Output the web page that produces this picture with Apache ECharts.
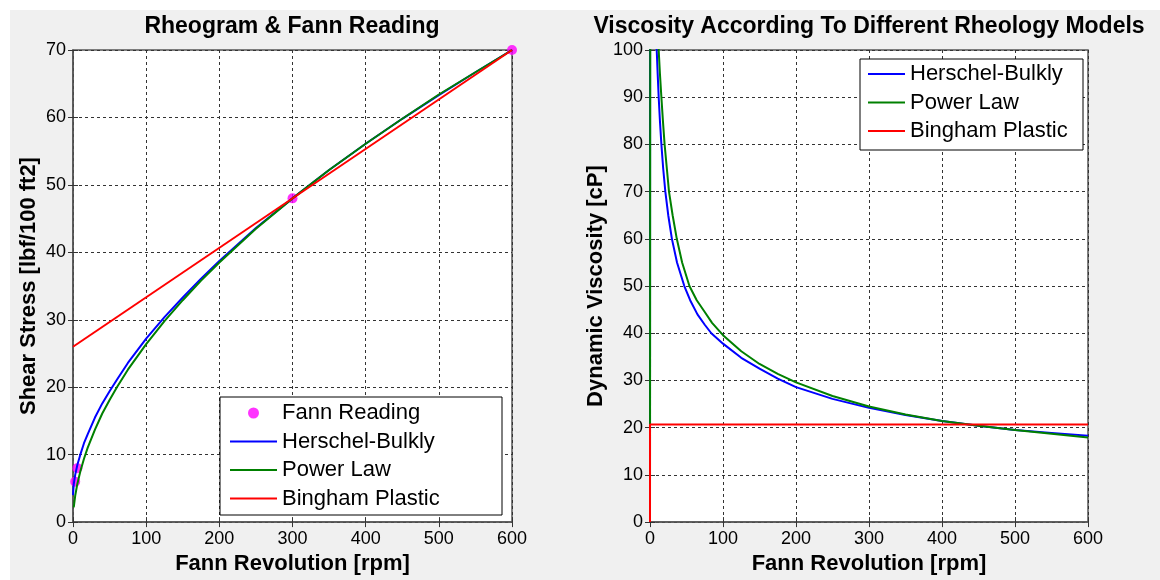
<!DOCTYPE html>
<html>
<head>
<meta charset="utf-8">
<script src="https://cdn.jsdelivr.net/npm/echarts@6/dist/echarts.min.js"></script>
<style>
  html, body { margin: 0; padding: 0; background: #fff; }
  #wrap { position: relative; width: 1160px; height: 580px; }
  #panel { position: absolute; left: 10px; top: 10px; right: 0; bottom: 0; background: #f0f0f0; }
  #chart { position: absolute; left: 0; top: 0; width: 1160px; height: 580px; }
</style>
</head>
<body>
<div id="wrap">
  <div id="panel"></div>
  <div id="chart"></div>
</div>
<script>
  // Fann viscometer readings
  const fannRpm = [3, 6, 300, 600]
  const fannDial = [6, 8, 48, 70]

  // rheogram (shear stress, lbf/100 ft2)
  const hbRpm = [0, 1, 3, 6, 10, 15, 20, 30, 40, 50, 60, 75, 100, 125, 150, 175, 200, 250, 300, 350, 400, 450, 500, 550, 600]
  const hbStress = [4.0, 5.6, 7.0, 8.5, 10.0, 11.7, 13.0, 15.5, 17.6, 19.4, 21.1, 23.6, 27.2, 30.4, 33.3, 36.1, 38.7, 43.6, 48.0, 52.2, 56.1, 59.8, 63.3, 66.7, 70.0]
  const plRpm = [1, 3, 6, 10, 15, 20, 30, 40, 50, 60, 75, 100, 125, 150, 175, 200, 250, 300, 350, 400, 450, 500, 550, 600]
  const plStress = [2.2, 3.9, 5.7, 7.5, 9.4, 11.0, 13.7, 16.1, 18.1, 20.0, 22.6, 26.4, 29.8, 32.9, 35.8, 38.5, 43.5, 48.0, 52.2, 56.1, 59.8, 63.4, 66.7, 70.0]
  const bpRpm = [0, 600]
  const bpStress = [26, 70]

  // viscosity (cP)
  const hbVisRpm = [0, 1, 5, 9.2, 10.5, 11.9, 13.6, 15.6, 18, 21, 25, 30, 37, 47, 55, 65, 75, 84, 100, 125, 150, 175, 200, 250, 300, 350, 400, 450, 500, 550, 600]
  const hbVis = [0, 700, 165, 100, 95, 90, 85, 80, 75, 70, 65, 60, 55, 50, 47, 44, 41.8, 40, 37.8, 34.8, 32.5, 30.4, 28.6, 26.1, 24.2, 22.7, 21.4, 20.4, 19.5, 18.9, 18.3]
  const plVisRpm = [0, 1, 5, 11.9, 13.6, 15.6, 17.7, 20, 23, 26, 31, 36.7, 44, 54, 64, 75, 85, 100, 125, 150, 175, 200, 250, 300, 350, 400, 450, 500, 550, 600]
  const plVis = [0, 330, 155, 100, 95, 90, 85, 80, 75, 70, 65, 60, 55, 50, 47, 44.5, 42.2, 39.6, 36.2, 33.5, 31.4, 29.6, 26.7, 24.5, 22.8, 21.4, 20.4, 19.5, 18.7, 17.9]
  const bpVisRpm = [0, 0, 600]
  const bpVis = [0, 20.7, 20.7]

  const FONT = '"Liberation Sans", Arial, Helvetica, sans-serif'
  const BLUE = '#0000ff'
  const GREEN = '#008000'
  const RED = '#ff0000'
  const MAGENTA = '#ff00ff'

  function pairs(xs, ys) {
    return xs.map((x, i) => [x, ys[i]])
  }

  function xAxes(gi, name) {
    return [
      {
        gridIndex: gi, type: 'value', min: 0, max: 600, interval: 100,
        name: name, nameLocation: 'middle', nameGap: 29,
        nameTextStyle: { fontFamily: FONT, fontWeight: 'bold', fontSize: 22, color: '#000' },
        axisLine: { show: true, lineStyle: { color: '#555', width: 1.5 } },
        axisTick: { inside: true, length: 5, lineStyle: { color: '#333' } },
        axisLabel: { color: '#000', fontSize: 18, fontFamily: FONT, margin: 8 },
        splitLine: { show: true, lineStyle: { color: '#333', type: [3, 3], width: 1 } }
      },
      {
        gridIndex: gi, type: 'value', position: 'top', min: 0, max: 600, interval: 100,
        axisLine: { show: false },
        axisTick: { inside: true, length: 5, lineStyle: { color: '#333' } },
        axisLabel: { show: false },
        splitLine: { show: false }
      }
    ]
  }

  function yAxes(gi, name, max, gap) {
    return [
      {
        gridIndex: gi, type: 'value', min: 0, max: max, interval: 10,
        name: name, nameLocation: 'middle', nameGap: gap,
        nameTextStyle: { fontFamily: FONT, fontWeight: 'bold', fontSize: 22, color: '#000' },
        axisLine: { show: true, lineStyle: { color: '#555', width: 1.5 } },
        axisTick: { inside: true, length: 5, lineStyle: { color: '#333' } },
        axisLabel: { color: '#000', fontSize: 18, fontFamily: FONT, margin: 7 },
        splitLine: { show: true, lineStyle: { color: '#333', type: [3, 3], width: 1 } }
      },
      {
        gridIndex: gi, type: 'value', position: 'right', min: 0, max: max, interval: 10,
        axisLine: { show: false },
        axisTick: { inside: true, length: 5, lineStyle: { color: '#333' } },
        axisLabel: { show: false },
        splitLine: { show: false }
      }
    ]
  }

  function line(name, data, color, xi, yi) {
    return {
      name: name, type: 'line', xAxisIndex: xi, yAxisIndex: yi,
      data: data, symbol: 'none', showSymbol: false, color: color,
      lineStyle: { color: color, width: 2 },
      animation: false, clip: true
    }
  }

  const legendText = { fontFamily: FONT, fontSize: 22, lineHeight: 22, color: '#000' }
  const lineIcon = w => 'path://M0 0H' + w + 'V2H0Z'

  let chart = echarts.init(document.getElementById('chart'))
  chart.setOption({
    animation: false,
    grid: [
      { left: 73, top: 50, width: 439, height: 476, show: true, backgroundColor: '#fff', borderColor: '#555', borderWidth: 1.5 },
      { left: 650, top: 50, width: 438, height: 476, show: true, backgroundColor: '#fff', borderColor: '#555', borderWidth: 1.5 }
    ],
    xAxis: [...xAxes(0, 'Fann Revolution [rpm]'), ...xAxes(1, 'Fann Revolution [rpm]')],
    yAxis: [...yAxes(0, 'Shear Stress [lbf/100 ft2]', 70, 33), ...yAxes(1, 'Dynamic Viscosity [cP]', 100, 43)],
    legend: [
      {
        data: [
          { name: 'Fann Reading', icon: 'circle' },
          { name: 'Herschel-Bulkly', icon: lineIcon(47) },
          { name: 'Power Law', icon: lineIcon(47) },
          { name: 'Bingham Plastic', icon: lineIcon(47) }
        ],
        orient: 'vertical', left: 220, top: 397, padding: [5, 0, 0, 10],
        itemWidth: 47, itemHeight: 11, itemGap: 6.5, selectedMode: false,
        textStyle: legendText, z: 100
      },
      {
        data: [
          { name: 'Herschel-Bulkly', icon: lineIcon(37) },
          { name: 'Power Law', icon: lineIcon(37) },
          { name: 'Bingham Plastic', icon: lineIcon(37) }
        ],
        orient: 'vertical', left: 860, top: 59, padding: [4, 0, 0, 8],
        itemWidth: 37, itemHeight: 11, itemGap: 6.5, selectedMode: false,
        textStyle: legendText, z: 100
      }
    ],
    graphic: [
      { type: 'rect', z: 90, shape: { x: 220, y: 397, width: 282, height: 118 }, style: { fill: '#fff', stroke: '#000', lineWidth: 1 } },
      { type: 'rect', z: 90, shape: { x: 860, y: 59, width: 223, height: 91 }, style: { fill: '#fff', stroke: '#000', lineWidth: 1 } },
      { type: 'text', z: 100, x: 292, y: 27, style: { text: 'Rheogram & Fann Reading', align: 'center', verticalAlign: 'middle', font: 'bold 23px ' + FONT, fill: '#000' } },
      { type: 'text', z: 100, x: 869, y: 27, style: { text: 'Viscosity According To Different Rheology Models', align: 'center', verticalAlign: 'middle', font: 'bold 23px ' + FONT, fill: '#000' } }
    ],
    series: [
      {
        name: 'Fann Reading', type: 'scatter', xAxisIndex: 0, yAxisIndex: 0,
        data: pairs(fannRpm, fannDial), symbol: 'circle', symbolSize: 10,
        itemStyle: { color: MAGENTA }, color: MAGENTA, animation: false
      },
      line('Herschel-Bulkly', pairs(hbRpm, hbStress), BLUE, 0, 0),
      line('Power Law', pairs(plRpm, plStress), GREEN, 0, 0),
      line('Bingham Plastic', pairs(bpRpm, bpStress), RED, 0, 0),
      line('Herschel-Bulkly', pairs(hbVisRpm, hbVis), BLUE, 2, 2),
      line('Power Law', pairs(plVisRpm, plVis), GREEN, 2, 2),
      line('Bingham Plastic', pairs(bpVisRpm, bpVis), RED, 2, 2)
    ]
  })
</script>
</body>
</html>
